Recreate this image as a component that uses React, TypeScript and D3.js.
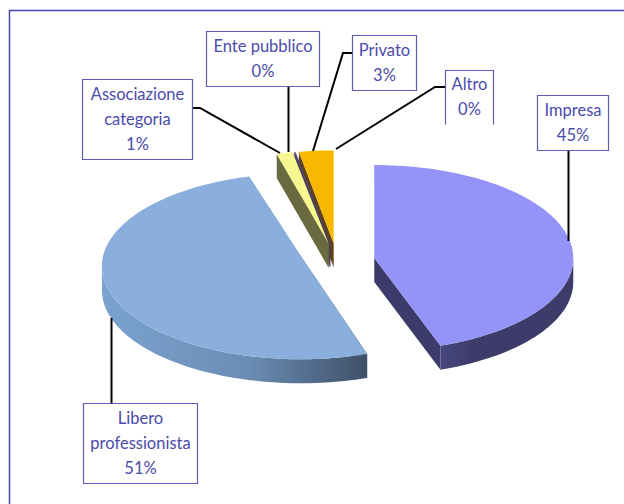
import React from "react";
import * as d3 from "d3";

// share of each category, clockwise from 12 o'clock
const categories = ["Impresa", "Libero professionista", "Associazione categoria", "Ente pubblico", "Privato", "Altro"];
const shares = [44.6, 51.2, 1.3, 0.1, 2.8, 0];
const topColors = ["#9494f8", "#8aafdc", "#f8f890", "#5a4a78", "#f8b800", "#f8b800"];
const wallColors = ["#3d3b69", "#6f94c0", "#6a6a40", "#4a3a60", "#5e4318", "#5e4318"];

const WIDTH = 624;
const HEIGHT = 504;
const cx = 337;
const cy = 261;
const rx = 199;
const ry = 93;
const depth = 24;
const explode = 0.19;
const textColor = "#4b4bab";
const boxColor = "#5c5cb4";

// the tilted pie's tip sits a little higher on the big left slice
const tipLift = [0, 10, 0, 0, 0, 0];

// label boxes and leader lines, same order as categories
const boxes = [
  { x: 537.5, y: 95.5, w: 71, h: 55, lines: ["Impresa"], leader: [[568.5, 150], [568.5, 241]] },
  { x: 83.5, y: 403.5, w: 114, h: 80, lines: ["Libero", "professionista"], leader: [[111.5, 403], [111.5, 318]] },
  { x: 82.5, y: 79.5, w: 110, h: 80, lines: ["Associazione", "categoria"], leader: [[191, 108], [200, 108], [280, 153]] },
  { x: 206.5, y: 31.5, w: 113, h: 55, lines: ["Ente pubblico"], leader: [[288.5, 86], [288.5, 152]] },
  { x: 352.5, y: 35.5, w: 64, h: 55, lines: ["Privato"], leader: [[352, 53], [343, 53], [313, 151]] },
  { x: 445.5, y: 70.5, w: 48, h: 54, lines: ["Altro"], leader: [[445, 87], [435, 87], [336, 149]], open: true },
];

// slices are painted back to front
const paintOrder = [4, 3, 2, 1, 0];

const pie = d3.pie<number>().sort(null).value((d) => d);
const arcs = pie(shares);
const pct = d3.format(".0f");

const project = (a: number, r = 1): [number, number] => [r * rx * Math.sin(a), -r * ry * Math.cos(a)];

const rim = (a0: number, a1: number) => {
  const n = Math.max(2, Math.ceil((a1 - a0) / 0.03));
  return d3.range(n + 1).map((i) => project(a0 + ((a1 - a0) * i) / n));
};

const line = d3.line();

const Slice = ({ index }: { index: number }) => {
  const { startAngle: a0, endAngle: a1 } = arcs[index];
  const [ox, oy] = project((a0 + a1) / 2, explode);
  const top = rim(a0, a1);
  const first = top[0];
  const last = top[top.length - 1];
  const fill = wallColors[index];
  const tip: [number, number] = [0, -tipLift[index]];

  // only the lower half of the rim shows a wall
  const v0 = Math.max(a0, Math.PI / 2);
  const v1 = Math.min(a1, (3 * Math.PI) / 2);
  const front = v1 > v0 ? rim(v0, v1) : [];
  const frontWall = front.length
    ? [...front, ...front.slice().reverse().map(([x, y]) => [x, y + depth] as [number, number])]
    : null;

  const cut = (p: [number, number]): [number, number][] => [tip, p, [p[0], p[1] + depth], [tip[0], tip[1] + depth]];

  return (
    <g transform={`translate(${cx + ox},${cy + oy})`}>
      <path d={line(cut(first)) + "Z"} fill={index === 1 ? "#3f5068" : fill} />
      <path d={line(cut(last)) + "Z"} fill={fill} />
      {frontWall && (
        <path d={line(frontWall) + "Z"} fill={index === 1 ? "url(#liberoWall)" : index === 0 ? "url(#impresaWall)" : fill} />
      )}
      <path d={line([tip, ...top]) + "Z"} fill={topColors[index]} />
    </g>
  );
};

const Label = ({ index }: { index: number }) => {
  const b = boxes[index];
  const rows = [...b.lines, `${pct(shares[index])}%`];
  const rowH = 25;
  const startY = b.y + b.h / 2 - ((rows.length - 1) * rowH) / 2 + 5;
  return (
    <g>
      <path d={line(b.leader as [number, number][])!} fill="none" stroke="#000" strokeWidth={2} />
      <rect x={b.x} y={b.y} width={b.w} height={b.h} fill="#fff" stroke="none" />
      <path
        d={
          b.open
            ? `M${b.x},${b.y + b.h}V${b.y}H${b.x + b.w}V${b.y + b.h}`
            : `M${b.x},${b.y}H${b.x + b.w}V${b.y + b.h}H${b.x}Z`
        }
        fill="none"
        stroke={boxColor}
        strokeWidth={1.2}
      />
      {rows.map((t, i) => (
        <text key={i} x={b.x + b.w / 2} y={startY + i * rowH} textAnchor="middle" fontSize={16.5} fill={textColor}>
          {t}
        </text>
      ))}
    </g>
  );
};

export default function App() {
  return (
    <svg
      width={WIDTH}
      height={HEIGHT}
      style={{ position: "absolute", left: 0, top: 0, background: "#fff", fontFamily: "Lato, 'Open Sans', sans-serif" }}
    >
      <defs>
        <linearGradient id="liberoWall" gradientUnits="userSpaceOnUse" x1={-rx} x2={66} y1={0} y2={0}>
          <stop offset="0" stopColor="#7ba3d0" />
          <stop offset="0.55" stopColor="#6b8db5" />
          <stop offset="1" stopColor="#3f5068" />
        </linearGradient>
        <linearGradient id="impresaWall" gradientUnits="userSpaceOnUse" x1={66} x2={100} y1={0} y2={0}>
          <stop offset="0" stopColor="#47477c" />
          <stop offset="1" stopColor="#3d3b69" />
        </linearGradient>
      </defs>

      {/* frame, open on the right and at the bottom */}
      <path d={`M9.5,${HEIGHT}V10.5H${WIDTH}`} fill="none" stroke="#4646ae" strokeWidth={1.5} />

      {paintOrder.map((i) => (
        <Slice key={i} index={i} />
      ))}
      {categories.map((c, i) => (
        <Label key={c} index={i} />
      ))}
    </svg>
  );
}
